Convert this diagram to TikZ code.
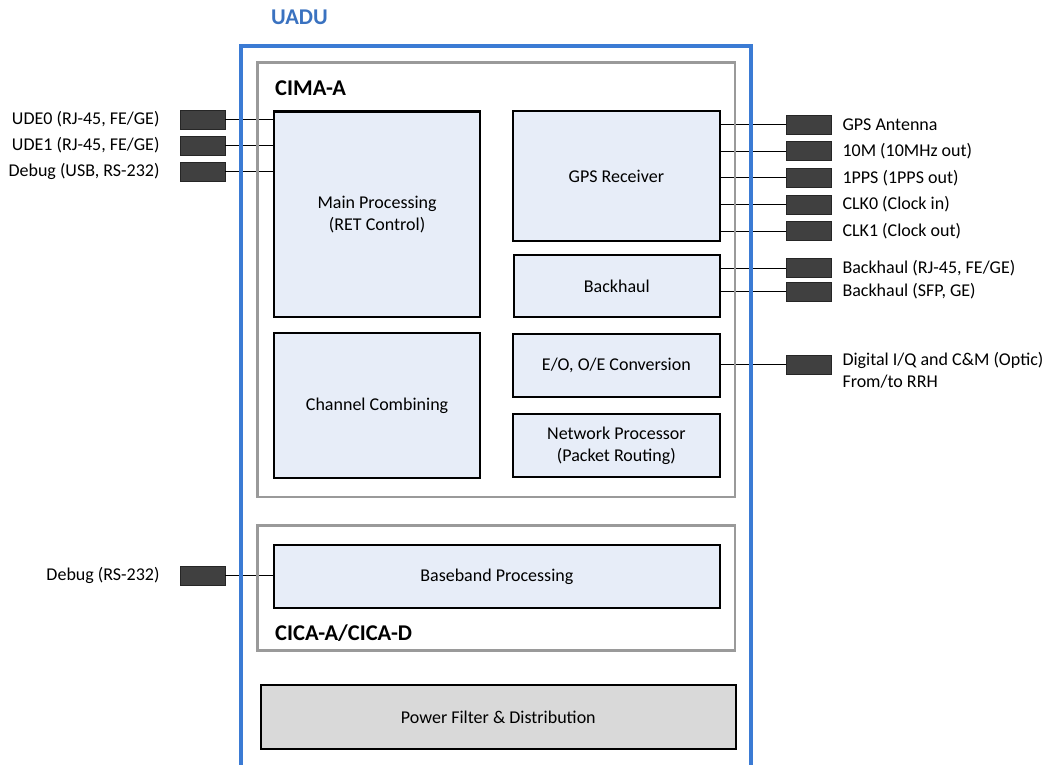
\documentclass[tikz,border=0pt]{standalone}
\usepackage{fontspec}
\setmainfont{Carlito}
\usepackage{tikz}
\usetikzlibrary{positioning}
\definecolor{uaduBlue}{HTML}{3B7BD4}
\definecolor{uaduText}{HTML}{3A72C0}
\definecolor{blockBlue}{HTML}{E7EDF8}
\definecolor{portGray}{HTML}{404040}
\definecolor{frameGray}{HTML}{9A9A9A}
\definecolor{powerGray}{HTML}{D9D9D9}

\begin{document}
\begin{tikzpicture}[x=1pt, y=-1pt,
  every node/.style={inner sep=0pt, font=\fontsize{18}{22}\selectfont},
  block/.style={draw, line width=2.2pt, fill=blockBlue, align=center, anchor=north west},
  port/.style={draw=black!85, line width=0.6pt, fill=portGray, minimum width=45pt, minimum height=19pt},
  title/.style={font=\fontsize{22.5}{26}\selectfont\bfseries, anchor=base west}]
  \useasboundingbox (0,0) rectangle (1053,765);

  \node [block, minimum width=206pt, minimum height=205pt] (main) at (273,110.5) {Main Processing\\(RET Control)};
  \node [block, minimum width=206pt, minimum height=144.5pt] (chan) at (273,332) {Channel Combining};
  \node [block, minimum width=206.5pt, minimum height=130pt] (gps) at (512,110) {GPS Receiver};
  \node [block, minimum width=205.5pt, minimum height=62pt] (bh) at (513,254) {Backhaul};
  \node [block, minimum width=206.5pt, minimum height=63pt] (eo) at (512,333) {E/O, O/E Conversion};
  \node [block, minimum width=206.5pt, minimum height=63pt] (np) at (512,413) {Network Processor\\(Packet Routing)};
  \node [block, minimum width=445.5pt, minimum height=63pt] (bb) at (273,544) {Baseband Processing};
  \node [block, fill=powerGray, minimum width=475.5pt, minimum height=64pt] (pwr) at (259.5,684) {Power Filter \& Distribution};

  \node [port] (ude0) at (202.5,119.5) {};
  \node [port, below=6.5pt of ude0] (ude1) {};
  \node [port, below=6.5pt of ude1] (dbgUsb) {};
  \node [port] (dbgRs) at (202.5,575.5) {};
  \node [left=20pt of ude0] (ude0Lbl) {UDE0 (RJ-45, FE/GE)};
  \node [left=20pt of ude1] (ude1Lbl) {UDE1 (RJ-45, FE/GE)};
  \node [left=20pt of dbgUsb] (dbgUsbLbl) {Debug (USB, RS-232)};
  \node [left=20pt of dbgRs] (dbgRsLbl) {Debug (RS-232)};

  \node [port] (gpsAnt) at (808.5,124.7) {};
  \node [port, below=7pt of gpsAnt] (tenM) {};
  \node [port, below=7pt of tenM] (pps) {};
  \node [port, below=7pt of pps] (clk0) {};
  \node [port, below=7pt of clk0] (clk1) {};
  \node [port] (bhRj) at (808.5,268) {};
  \node [port, below=4pt of bhRj] (bhSfp) {};
  \node [port] (optic) at (808.5,364.5) {};
  \node [right=11pt of gpsAnt] (gpsAntLbl) {GPS Antenna};
  \node [right=11pt of tenM] (tenMLbl) {10M (10MHz out)};
  \node [right=11pt of pps] (ppsLbl) {1PPS (1PPS out)};
  \node [right=11pt of clk0] (clk0Lbl) {CLK0 (Clock in)};
  \node [right=11pt of clk1] (clk1Lbl) {CLK1 (Clock out)};
  \node [right=11pt of bhRj] (bhRjLbl) {Backhaul (RJ-45, FE/GE)};
  \node [right=11pt of bhSfp] (bhSfpLbl) {Backhaul (SFP, GE)};
  \node [right=11pt of optic, yshift=-6pt, align=left] (opticLbl) {Digital I/Q and C\&M (Optic)\\From/to RRH};

  \foreach \p in {ude0,ude1,dbgUsb}
    \draw [line width=0.8pt] (\p) -- (\p -| main.west);
  \draw [line width=0.8pt] (dbgRs) -- (dbgRs -| bb.west);
  \foreach \p in {gpsAnt,tenM,pps,clk0,clk1}
    \draw [line width=0.8pt] (\p) -- (\p -| gps.east);
  \foreach \p in {bhRj,bhSfp}
    \draw [line width=0.8pt] (\p) -- (\p -| bh.east);
  \draw [line width=0.8pt] (optic) -- (optic -| eo.east);

  \draw [frameGray, line width=2.5pt] (257.5,62.5) rectangle (735,497);
  \draw [frameGray, line width=2.5pt] (257.5,525.5) rectangle (735,650.5);
  \begin{scope}
    \clip (0,0) rectangle (1053,765);
    \draw [uaduBlue, line width=4pt] (240.5,46) rectangle (751,767);
  \end{scope}

  \node [title] (cimaLbl) at (275,96) {CIMA-A};
  \node [title] (cicaLbl) at (275,640) {CICA-A/CICA-D};
  \node [title, text=uaduText] (uaduLbl) at (271,25) {UADU};
\end{tikzpicture}
\end{document}
